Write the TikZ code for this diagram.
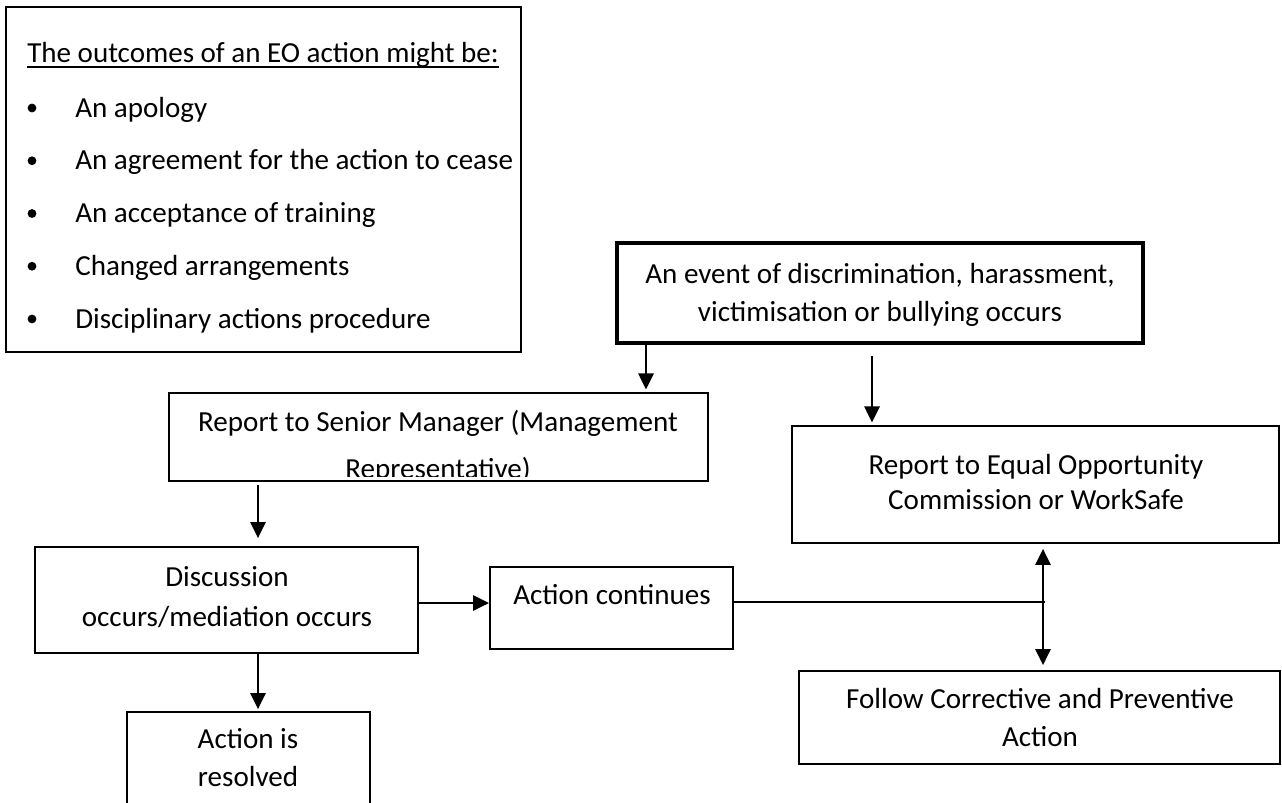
\documentclass[tikz,border=0pt]{standalone}
\usepackage{fontspec}
\setmainfont{Carlito}
\usetikzlibrary{arrows.meta, positioning, calc, fit}
\tikzset{
  box/.style={draw, line width=1.4pt, inner sep=0pt},
  evbox/.style={box, line width=3.4pt},
  txt/.style={font=\fontsize{21.8}{28.5}\selectfont, align=center, inner sep=0pt},
  arr/.style={line width=1.4pt, -{Triangle[length=12pt,width=11.5pt]}},
  darr/.style={line width=1.4pt, {Triangle[length=12pt,width=11.5pt]}-{Triangle[length=12pt,width=11.5pt]}}
}

\begin{document}
\begin{tikzpicture}[x=0.75pt,y=-0.75pt]
        \useasboundingbox (0,0) rectangle (1282,803);
        \clip (0,0) rectangle (1282,803);
        % list of outcomes
        \node[txt, anchor=base west] (otitle) at (27,62)
          {The outcomes of an EO action might be:};
        \draw[line width=1.2pt] ($(otitle.base west)+(0,5)$) -- ($(otitle.base east)+(0,5)$);
        \foreach \t [count=\i] in
          {An apology, An agreement for the action to cease,
           An acceptance of training, Changed arrangements,
           Disciplinary actions procedure}
        {
          \fill (32,{117+52.75*(\i-1)-9}) circle[radius=3.3pt];
          \node[txt, anchor=base west] (oitem\i) at (75,{117+52.75*(\i-1)}) {\t};
        }
        \coordinate (oright) at ($(oitem2.east)+(8,0)$);
        \node[box, fit={(6,7) (oright) (6,352)}] (outc) {};
        % flow boxes
        \node[evbox, fit={(617,243) (1143,343)}] (ev) {};
        \node[txt] (evtxt) at (880,295)
          {An event of discrimination, harassment,\\victimisation or bullying occurs};
        \node[box, fit={(169,393) (708,481)}] (sm) {};
        \begin{scope}
          \clip ($(sm.north west)+(2,2)$) rectangle ($(sm.south east)+(-2,-5)$);
          \node[txt] (smtxt) at (438,447)
            {Report to Senior Manager (Management\\[6.5pt]Representative)};
        \end{scope}
        \node[box, fit={(792,426) (1279,543)}] (eoc) {};
        \node[txt] (eoctxt) at (1036,482)
          {Report to Equal Opportunity\\[-2.25pt]Commission or WorkSafe};
        \node[box, fit={(35,547) (418,653)}] (disc) {};
        \node[txt] (disctxt) at (227,597) {Discussion\\[1.5pt]occurs/mediation occurs};
        \node[box, fit={(490,567) (733,649)}] (act) {};
        \node[txt] (acttxt) at (612,595) {Action continues};
        \node[box, fit={(799,671) (1280,764)}] (fol) {};
        \node[txt] (foltxt) at (1040,718) {Follow Corrective and Preventive\\Action};
        \node[box, fit={(127,712) (370,840)}] (res) {};
        \node[txt] (restxt) at (248,758) {Action is\\resolved};
        % connectors
        \coordinate (xa) at (646,0);
        \coordinate (xb) at (872,0);
        \coordinate (xc) at (258,0);
        \coordinate (xd) at (1043,0);
        \coordinate (jn) at (1045,602);
        \draw[arr, shorten >=2pt] (ev.south -| xa) -- (sm.north -| xa);
        \draw[arr, shorten <=8pt, shorten >=2pt] (ev.south -| xb) -- (eoc.north -| xb);
        \draw[arr, shorten <=2pt, shorten >=6pt] (sm.south -| xc) -- (disc.north -| xc);
        \draw[arr, shorten >=1.5pt] (disc.south -| xc) -- (res.north -| xc);
        \draw[arr] ($(disc.east)+(0,3)$) -- (act.west |- {0,603});
        \draw[line width=1.4pt] (act.east |- jn) -- (jn);
        \draw[darr, shorten <=3.75pt, shorten >=3.75pt] (eoc.south -| xd) -- (fol.north -| xd);
\end{tikzpicture}
\end{document}
